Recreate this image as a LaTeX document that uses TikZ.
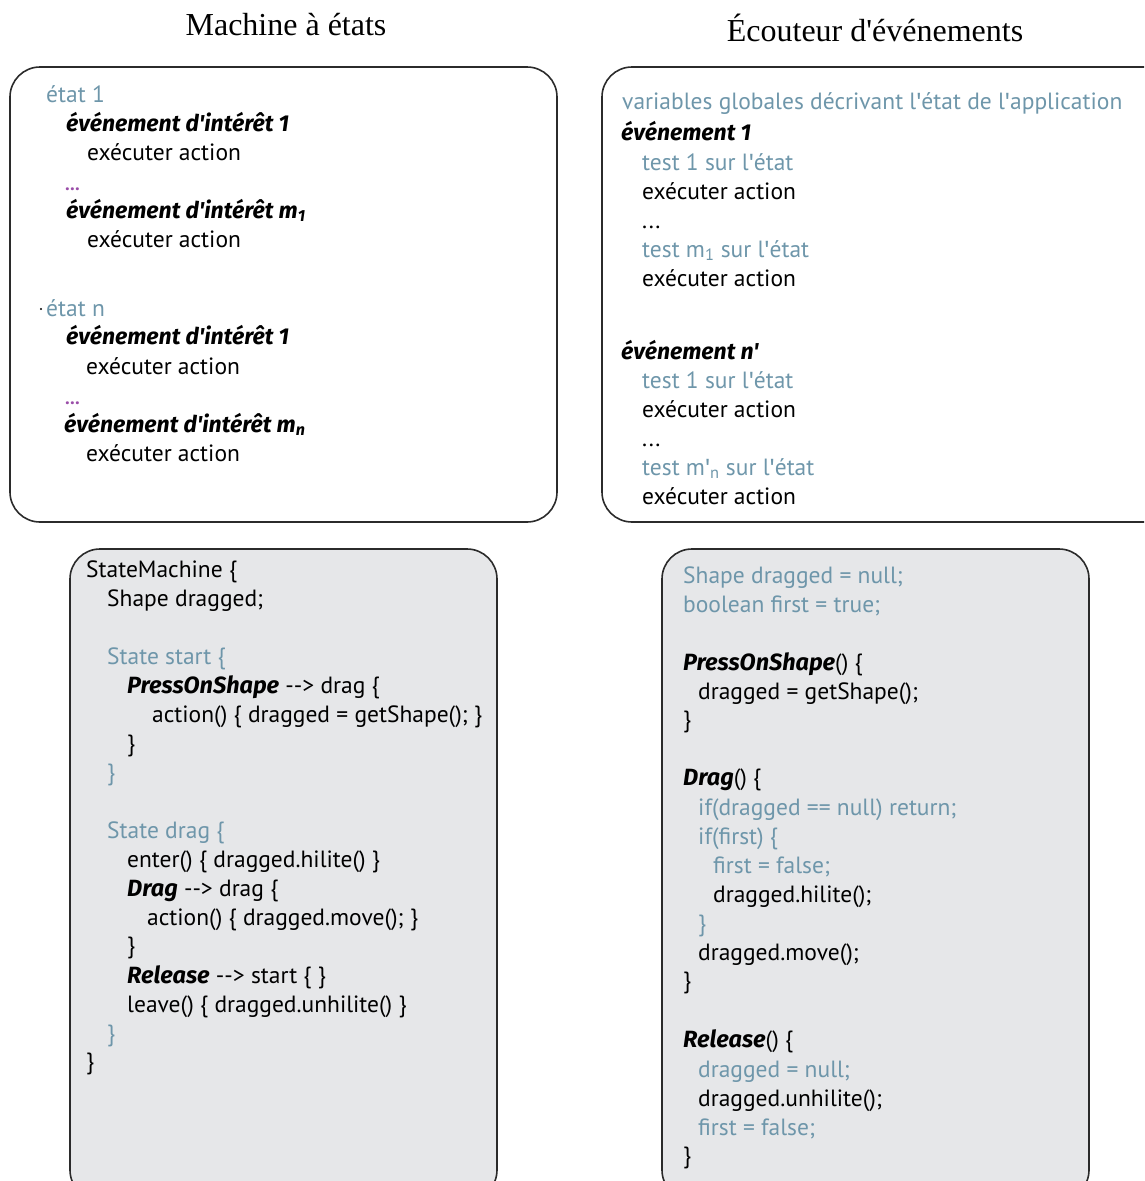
\documentclass[tikz,border=0pt]{standalone}
\usepackage{fontspec}
\setmainfont{PT Sans}[Ligatures=ResetAll]
\newfontfamily\titlefont{Liberation Serif}[Ligatures=ResetAll]
\newfontfamily\bifam{Fira Sans}[Ligatures=ResetAll]
\newcommand{\biw}[1]{{\bifam\bfseries\itshape #1}}
\newcommand{\ap}{{\bifam\mdseries\upshape '}}
\definecolor{steel}{HTML}{6E96AA}
\definecolor{dotpurple}{HTML}{9A4DA8}
\definecolor{boxgray}{HTML}{E6E7E9}
\definecolor{edge}{HTML}{2B2B2B}
\begin{document}
\begin{tikzpicture}[x=1pt,y=-1pt,
  txt/.style={anchor=base west,inner sep=0pt,font=\fontsize{23.5}{26}\selectfont},
  bl/.style={txt,text=steel},
  bi/.style={anchor=base west,inner sep=0pt,font=\fontsize{23}{26}\selectfont\bifam\bfseries\itshape},
  dots/.style={txt,text=dotpurple,font=\fontsize{19}{22}\selectfont\bfseries},
  ttl/.style={anchor=base,inner sep=0pt,font=\titlefont\fontsize{32}{34}\selectfont},
  panel/.style={draw=edge,line width=1.6pt,rounded corners=30pt},
  codepanel/.style={panel,fill=boxgray}]
\useasboundingbox (0,0) rectangle (1144,1181);
\begin{scope}
\clip (0,0) rectangle (1144,1181);
% panels
\draw[panel] (10,67) rectangle (557,522);
\draw[panel] (602,67) rectangle (1175,522);
\draw[codepanel] (70,549) rectangle (497,1200);
\draw[codepanel] (662,549) rectangle (1089,1200);
\end{scope}
% titles
\node[ttl] (t1) at (286,35) {Machine à états};
\node[ttl] (t2) at (875,41) {Écouteur d'événements};
% top-left
\node[bl] (a1) at (46,102) {état 1};
\node[bi] (a2) at (66,131) {événement d'intérêt 1};
\node[txt] (a3) at (87,160) {exécuter action};
\node[dots] (a4) at (65,190) {...};
\node[bi] (a5) at (66,218) {événement d'intérêt m\textsubscript{1}};
\node[txt] (a6) at (87,247) {exécuter action};
\fill (41,309) circle (1.2) coordinate (adot);
\node[bl] (a7) at (46,316) {état n};
\node[bi] (a8) at (66,344) {événement d'intérêt 1};
\node[txt] (a9) at (86,374) {exécuter action};
\node[dots] (a10) at (65,404) {...};
\node[bi] (a11) at (64,432) {événement d'intérêt m\textsubscript{n}};
\node[txt] (a12) at (86,461) {exécuter action};
% top-right
\node[bl] (b1) at (622,109) {variables globales décrivant l\ap état de l\ap application};
\node[bi] (b2) at (621,140) {événement 1};
\node[bl] (b3) at (642,170) {test 1 sur l\ap état};
\node[txt] (b4) at (642,199) {exécuter action};
\node[txt] (b5) at (642,228) {...};
\node[bl] (b6) at (642,257) {test m\textsubscript{1} sur l\ap état};
\node[txt] (b7) at (642,286) {exécuter action};
\node[bi] (b8) at (621,359) {événement n'};
\node[bl] (b9) at (642,388) {test 1 sur l\ap état};
\node[txt] (b10) at (642,417) {exécuter action};
\node[txt] (b11) at (642,446) {...};
\node[bl] (b12) at (642,475) {test m\ap\textsubscript{n} sur l\ap état};
\node[txt] (b13) at (642,504) {exécuter action};
% bottom-left
\node[txt] (c1) at (86,577) {StateMachine \{};
\node[txt] (c2) at (107,606) {Shape dragged;};
\node[bl] (c3) at (107,664) {State start \{};
\node[txt] (c4) at (127,693) {\biw{PressOnShape} -{}-> drag \{};
\node[txt] (c5) at (152,722) {action() \{ dragged = getShape(); \}};
\node[txt] (c6) at (127,751) {\}};
\node[bl] (c7) at (107,780) {\}};
\node[bl] (c8) at (107,838) {State drag \{};
\node[txt] (c9) at (127,867) {enter() \{ dragged.hilite() \}};
\node[txt] (c10) at (127,896) {\biw{Drag} -{}-> drag \{};
\node[txt] (c11) at (147,925) {action() \{ dragged.move(); \}};
\node[txt] (c12) at (127,953) {\}};
\node[txt] (c13) at (127,983) {\biw{Release} -{}-> start \{ \}};
\node[txt] (c14) at (127,1012) {leave() \{ dragged.unhilite() \}};
\node[bl] (c15) at (107,1041) {\}};
\node[txt] (c16) at (86,1069) {\}};
% bottom-right
\node[bl] (d1) at (683,583) {Shape dragged = null;};
\node[bl] (d2) at (683,612) {boolean first = true;};
\node[txt] (d3) at (683,670) {\biw{PressOnShape}() \{};
\node[txt] (d4) at (698,699) {dragged = getShape();};
\node[txt] (d5) at (683,727) {\}};
\node[txt] (d6) at (683,785) {\biw{Drag}() \{};
\node[bl] (d7) at (698,815) {if(dragged == null) return;};
\node[bl] (d8) at (698,844) {if(first) \{};
\node[bl] (d9) at (713,873) {first = false;};
\node[txt] (d10) at (713,902) {dragged.hilite();};
\node[bl] (d11) at (698,931) {\}};
\node[txt] (d12) at (698,960) {dragged.move();};
\node[txt] (d13) at (683,988) {\}};
\node[txt] (d14) at (683,1047) {\biw{Release}() \{};
\node[bl] (d15) at (698,1077) {dragged = null;};
\node[txt] (d16) at (698,1106) {dragged.unhilite();};
\node[bl] (d17) at (698,1135) {first = false;};
\node[txt] (d18) at (683,1163) {\}};
\end{tikzpicture}
\end{document}
